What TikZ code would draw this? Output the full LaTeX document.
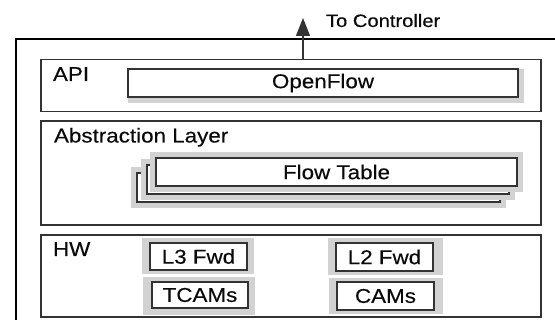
\documentclass[tikz,border=0pt]{standalone}
\usepackage{fontspec}
\setmainfont{Liberation Sans}[FakeStretch=1.12, FakeBold=0.3]
\usetikzlibrary{arrows.meta}
\definecolor{edge}{HTML}{333333}
\definecolor{shade}{HTML}{D2D2D2}
\definecolor{ink}{HTML}{0A0A0A}

\begin{document}
\begin{tikzpicture}[x=1pt,y=-1pt,
  lbl/.style={font=\fontsize{20}{23}\selectfont, text=ink, inner sep=0pt, outer sep=0pt},
  layer/.style={draw=edge, line width=1.2pt, inner sep=0pt, outer sep=0pt},
  cell/.style={draw=edge, line width=1.3pt, fill=white, inner sep=0pt, outer sep=0pt, lbl},
  pad/.style={fill=shade, inner sep=0pt, outer sep=0pt},
  sheet/.style={cell, preaction={draw=shade, line width=12pt}},
]
\path[use as bounding box, clip] (0,0) rectangle (555,320);
\fill[white] (0,0) rectangle (555,320);

% switch chassis (runs past the right and bottom edges)
\node[draw=black, line width=1.3pt, inner sep=0pt, outer sep=0pt,
      anchor=north west, minimum width=600pt, minimum height=330pt] (chassis) at (16,39) {};

% three layers
\node[layer, minimum width=500pt, minimum height=52.7pt] (api) at (291,85.5) {};
\node[layer, minimum width=500pt, minimum height=104pt] (abs) at (291,173) {};
\node[layer, minimum width=500pt, minimum height=82pt] (hw) at (291,276) {};

\node[lbl, anchor=base west] (apilbl) at (53,81) {API};
\node[lbl, anchor=base west] (abslbl) at (54,142.5) {Abstraction Layer};
\node[lbl, anchor=base west] (hwlbl) at (53,256) {HW};

% API: OpenFlow with drop shadow
\node[pad, minimum width=396pt, minimum height=34pt] (ofshadow) at (326,86) {};
\node[cell, minimum width=390pt, minimum height=28pt] (openflow) at (323,83) {OpenFlow};

% link to the controller
\coordinate (ctl) at (303,18);
\draw[edge, line width=1.2pt, -{Triangle[length=18pt,width=14pt]}] (api.north -| ctl) -- (ctl);
\node[lbl, font=\fontsize{18}{21}\selectfont, anchor=base west] (tocontroller) at (326,27) {To Controller};

% abstraction layer: stack of flow tables
\node[sheet, minimum width=363pt, minimum height=29pt] (ftback) at (318.5,187.5) {};
\node[sheet, minimum width=362pt, minimum height=29pt] (ftmid) at (328,179.5) {};
\node[sheet, minimum width=361pt, minimum height=28pt] (ftfront) at (336.5,172) {Flow Table};

% hardware blocks
\node[pad, minimum width=112pt, minimum height=36pt] (l3bg) at (198,256) {};
\node[cell, minimum width=97pt, minimum height=27pt] (l3) at (198.5,256.5) {L3 Fwd};
\node[pad, minimum width=112pt, minimum height=38pt] (tcambg) at (199,296) {};
\node[cell, minimum width=96pt, minimum height=26pt] (tcam) at (200,295) {TCAMs};
\node[pad, minimum width=115pt, minimum height=37pt] (l2bg) at (385.5,256.5) {};
\node[cell, minimum width=97pt, minimum height=28pt] (l2) at (384.5,257) {L2 Fwd};
\node[pad, minimum width=114pt, minimum height=36pt] (cambg) at (386,296) {};
\node[cell, minimum width=97pt, minimum height=28pt] (cam) at (385.5,296) {CAMs};
\end{tikzpicture}
\end{document}
